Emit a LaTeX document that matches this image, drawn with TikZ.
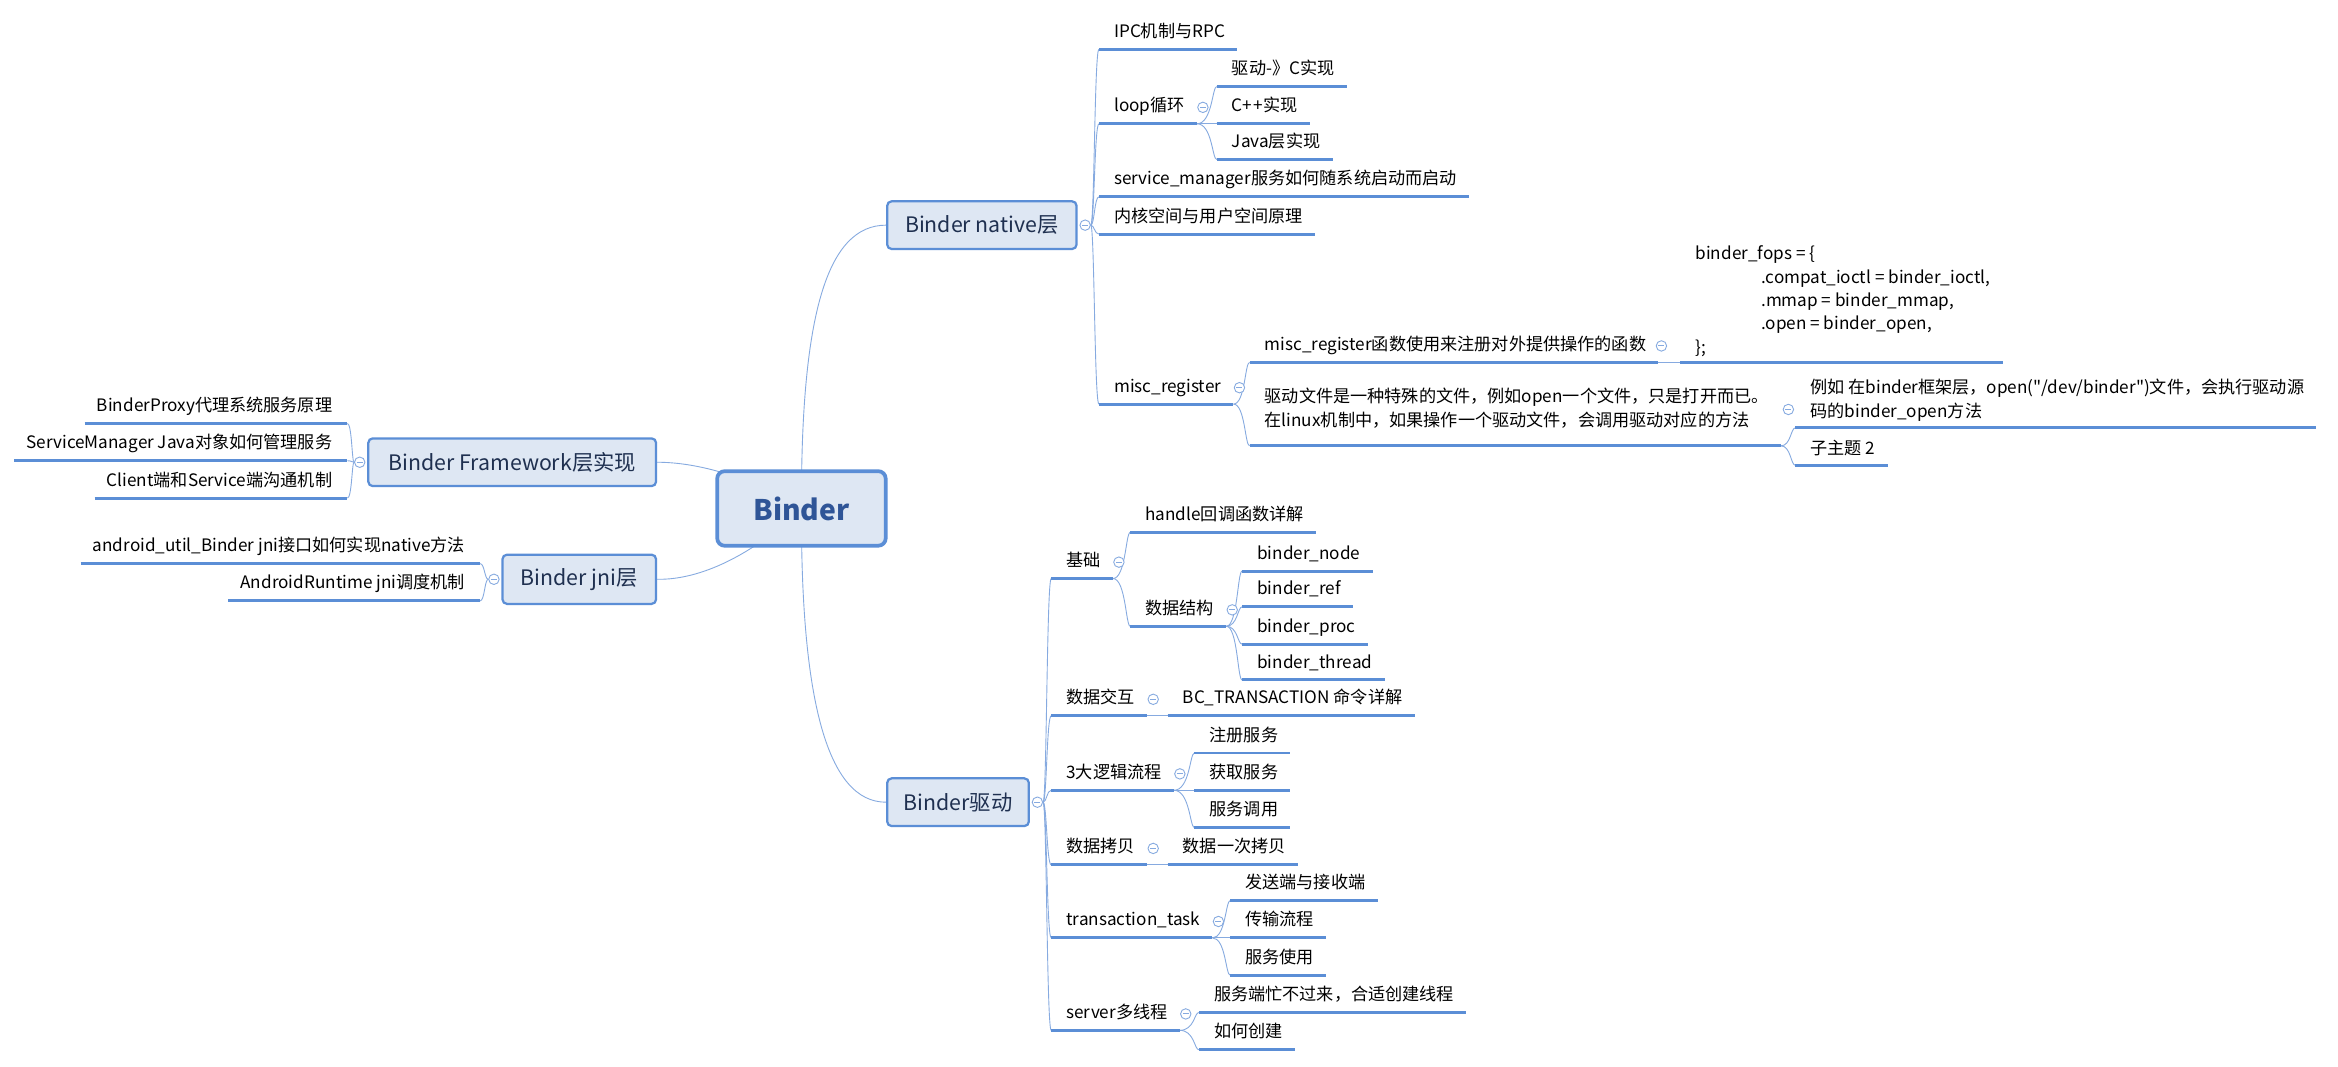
\documentclass[tikz,border=0pt]{standalone}
\usepackage{fontspec}
\setmainfont{Noto Sans CJK SC}
\newfontfamily\plainfont{Noto Sans CJK SC}
\usetikzlibrary{calc}
\definecolor{ulc}{HTML}{5B8ED6}
\definecolor{spc}{HTML}{86AAE0}
\definecolor{fillc}{HTML}{DEE7F3}
\definecolor{bordc}{HTML}{5B8ED6}
\definecolor{topicc}{HTML}{1F3050}
\definecolor{rootc}{HTML}{2F5597}
\pgfdeclarelayer{back}
\pgfdeclarelayer{bg}
\pgfsetlayers{back,bg,main}
\tikzset{
  uline/.style={draw=ulc, line width=2pt},
  spine/.style={draw=spc, line width=0.6pt},
  leaftext/.style={inner sep=0pt, anchor=base west, text=black, font=\fontsize{11.5}{15.65}\selectfont},
  leaftextL/.style={leaftext, anchor=base east},
  leafmulti/.style={leaftext, anchor=south west, align=left},
  topic/.style={draw=bordc, fill=fillc, line width=1.5pt, rounded corners=3pt, inner sep=0pt,
    minimum height=32pt, text=topicc, font=\fontsize{14.3}{16}\selectfont},
  toggle/.style={circle, draw=spc, fill=white, inner sep=0pt, minimum size=7pt, line width=0.6pt,
    path picture={\draw[spc, line width=0.6pt] ([xshift=-2pt]path picture bounding box.center) -- ([xshift=2pt]path picture bounding box.center);}}
}
% leaf on right side: name, x of underline start, y of underline, baseline offset, text
\newcommand\leafx[5]{%
  \coordinate (#1-l) at (#2,#3);
  \node[leaftext] (#1) at (#2+10,#3-#4) {#5};
  \coordinate (#1-r) at ($(#1.east |- #1-l)+(8,0)$);
  \draw[uline] (#1-l) -- (#1-r);
}
\newcommand\leaf[4]{\leafx{#1}{#2}{#3}{8}{#4}}
% multi-line leaf: name, x1, uy, bottom offset, text
\newcommand\leafm[5]{%
  \coordinate (#1-l) at (#2,#3);
  \node[leafmulti] (#1) at (#2+10,#3-#4) {#5};
  \coordinate (#1-r) at ($(#1.east |- #1-l)+(8,0)$);
  \draw[uline] (#1-l) -- (#1-r);
}
% leaf on left side: name, x of underline end, y of underline, text
\newcommand\leafL[4]{%
  \coordinate (#1-r) at (#2,#3);
  \node[leaftextL] (#1) at (#2-10,#3-8) {#4};
  \coordinate (#1-l) at ($(#1.west |- #1-r)+(-8,0)$);
  \draw[uline] (#1-l) -- (#1-r);
}
\newcommand\tog[1]{\node[toggle] (#1-t) at ($(#1-r)+(4,-11)$) {};}
\newcommand\kid[2]{%
  \coordinate (kk) at ($(#2)+(-3,0)$);
  \begin{pgfonlayer}{bg}\draw[spine] (#1) .. controls (kk |- #1) and (kk) .. (#2);\end{pgfonlayer}}
\newcommand\kidL[2]{%
  \coordinate (kk) at ($(#2)+(3,0)$);
  \begin{pgfonlayer}{bg}\draw[spine] (#1) .. controls (kk |- #1) and (kk) .. (#2);\end{pgfonlayer}}
\newcommand\qq{{\plainfont\char34}}
\begin{document}
\begin{tikzpicture}[x=1pt,y=-1pt]
\begin{pgfonlayer}{back}
\fill[white] (0,0) rectangle (1568,715);
\end{pgfonlayer}
\useasboundingbox (0,0) rectangle (1568,715);

% ---------- topics ----------
\node[topic, minimum width=113pt, minimum height=50pt, line width=2.5pt, rounded corners=5pt,
  text=rootc, font=\fontsize{19}{22}\selectfont\bfseries] (root) at (537.5,341) {Binder};
\node[topic, minimum width=127pt] (native) at (658.5,151) {Binder native层};
\node[topic, minimum width=95pt] (drive) at (642.5,538) {Binder驱动};
\node[topic, minimum width=193pt] (fw) at (343.5,310) {Binder Framework层实现};
\node[topic, minimum width=103pt, minimum height=33pt] (jni) at (388.5,388.5) {Binder jni层};

\node[toggle] (native-t) at ($(native.east)+(5,0)$) {};
\node[toggle] (drive-t) at ($(drive.east)+(5,0)$) {};
\node[toggle] (fw-t) at ($(fw.west)+(-5,0)$) {};
\node[toggle] (jni-t) at ($(jni.west)+(-5,0)$) {};

\begin{pgfonlayer}{bg}
\draw[spine] (root.center) .. controls (537,210) and (555,151) .. (native.west);
\draw[spine] (root.center) .. controls (537,470) and (555,538) .. (drive.west);
\draw[spine] (root.center) .. controls (500,318) and (465,310) .. (fw.east);
\draw[spine] (root.center) .. controls (505,372) and (470,389) .. (jni.east);
\end{pgfonlayer}

% ---------- Binder native ----------
\leaf{ipc}{737}{33}{IPC机制与RPC}
\leaf{loop}{737}{83}{loop循环}
\tog{loop}
\leaf{lc}{816}{58}{驱动-》C实现}
\leaf{lcpp}{816}{83}{C+\kern1pt+实现}
\leaf{ljava}{816}{107}{Java层实现}
\leaf{sm}{737}{132}{service\_manager服务如何随系统启动而启动}
\leaf{kern}{737}{157}{内核空间与用户空间原理}
\leaf{misc}{737}{271}{misc\_register}
\tog{misc}
\leaf{miscfn}{838}{243}{misc\_register函数使用来注册对外提供操作的函数}
\node[toggle] (miscfn-t) at ($(miscfn-r)+(2,-11)$) {};
\leafm{fops}{1127}{243}{3}{binder\_fops = \{\\
\hspace*{44pt}.compat\_ioctl = binder\_ioctl,\\
\hspace*{44pt}.mmap = binder\_mmap,\\
\hspace*{44pt}.open = binder\_open,\\
\};\rule[-3pt]{0pt}{3pt}}
\leafm{drv}{838}{299}{10}{驱动文件是一种特殊的文件，例如open一个文件，只是打开而已。\\
在linux机制中，如果操作一个驱动文件，会调用驱动对应的方法\rule[-3pt]{0pt}{3pt}}
\node[toggle] (drv-t) at ($(drv.east)+(13,0)$) {};
\leafm{ex}{1204}{287}{4}{例如 在binder框架层，open(\qq/dev/binder\qq)文件，会执行驱动源\\
码的binder\_open方法\rule[-3pt]{0pt}{3pt}}
\leafx{sub2}{1204}{312}{7}{子主题 2}

\kid{native-t}{ipc-l}
\kid{native-t}{loop-l}
\kid{native-t}{sm-l}
\kid{native-t}{kern-l}
\kid{native-t}{misc-l}
\kid{loop-r}{lc-l}
\kid{loop-r}{lcpp-l}
\kid{loop-r}{ljava-l}
\kid{misc-r}{miscfn-l}
\kid{misc-r}{drv-l}
\kid{miscfn-r}{fops-l}
\kid{drv-r}{ex-l}
\kid{drv-r}{sub2-l}

% ---------- Binder driver ----------
\leaf{jc}{705}{388}{基础}
\tog{jc}
\leaf{handle}{758}{357}{handle回调函数详解}
\leaf{ds}{758}{420}{数据结构}
\tog{ds}
\leaf{bnode}{833}{383}{binder\_node}
\leaf{bref}{833}{407}{binder\_ref}
\leaf{bproc}{833}{432}{binder\_proc}
\leaf{bthread}{833}{456}{binder\_thread}
\leaf{jh}{705}{480}{数据交互}
\tog{jh}
\leaf{bc}{783}{480}{BC\_TRANSACTION 命令详解}
\leaf{lthree}{705}{530}{3大逻辑流程}
\tog{lthree}
\leaf{reg}{801}{505}{注册服务}
\leaf{get}{801}{530}{获取服务}
\leaf{call}{801}{555}{服务调用}
\leaf{cp}{705}{580}{数据拷贝}
\tog{cp}
\leaf{once}{783}{580}{数据一次拷贝}
\leaf{task}{705}{629}{transaction\_task}
\tog{task}
\leaf{se}{825}{604}{发送端与接收端}
\leaf{tr}{825}{629}{传输流程}
\leaf{use}{825}{654}{服务使用}
\leaf{srv}{705}{691}{server多线程}
\tog{srv}
\leaf{busy}{804}{679}{服务端忙不过来，合适创建线程}
\leaf{how}{804}{704}{如何创建}

\kid{drive-t}{jc-l}
\kid{drive-t}{jh-l}
\kid{drive-t}{lthree-l}
\kid{drive-t}{cp-l}
\kid{drive-t}{task-l}
\kid{drive-t}{srv-l}
\kid{jc-r}{handle-l}
\kid{jc-r}{ds-l}
\kid{ds-r}{bnode-l}
\kid{ds-r}{bref-l}
\kid{ds-r}{bproc-l}
\kid{ds-r}{bthread-l}
\kid{jh-r}{bc-l}
\kid{lthree-r}{reg-l}
\kid{lthree-r}{get-l}
\kid{lthree-r}{call-l}
\kid{cp-r}{once-l}
\kid{task-r}{se-l}
\kid{task-r}{tr-l}
\kid{task-r}{use-l}
\kid{srv-r}{busy-l}
\kid{srv-r}{how-l}

% ---------- left side ----------
\leafL{bp}{233}{284}{BinderProxy代理系统服务原理}
\leafL{smj}{233}{309}{ServiceManager Java对象如何管理服务}
\leafL{cs}{233}{334}{Client端和Service端沟通机制}
\leafL{au}{322}{378}{android\_util\_Binder jni接口如何实现native方法}
\leafL{ar}{322}{403}{AndroidRuntime jni调度机制}

\kidL{fw-t}{bp-r}
\kidL{fw-t}{smj-r}
\kidL{fw-t}{cs-r}
\kidL{jni-t}{au-r}
\kidL{jni-t}{ar-r}
\end{tikzpicture}
\end{document}
